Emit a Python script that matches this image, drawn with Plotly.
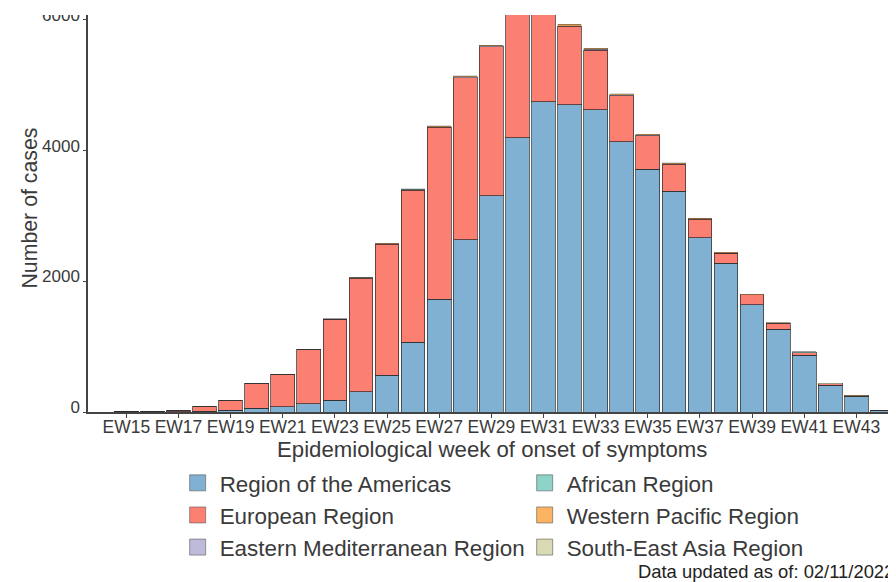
import plotly.graph_objects as go

weeks = ["EW%d" % w for w in range(14, 45)]
tick_weeks = ["EW%d" % w for w in range(15, 45, 2)]

americas = [0, 1, 1, 5, 10, 25, 56, 82, 130, 178, 310, 565, 1064, 1722, 2635, 3307,
            4197, 4745, 4704, 4627, 4133, 3715, 3379, 2670, 2275, 1645, 1269, 866, 407, 240, 20]
european = [0, 2, 2, 15, 72, 147, 375, 485, 819, 1241, 1737, 2005, 2333, 2635, 2481, 2279,
            1918, 1421, 1196, 912, 706, 512, 412, 279, 151, 146, 89, 42, 22, 7, 5]
eastern_med = [0, 0, 0, 0, 0, 0, 1, 1, 2, 3, 4, 5, 6, 8, 9, 10,
               12, 11, 10, 9, 8, 7, 6, 5, 4, 3, 3, 2, 2, 1, 0]
african = [0, 0, 0, 0, 0, 0, 0, 1, 1, 1, 2, 2, 3, 3, 4, 5,
           5, 4, 4, 3, 3, 3, 2, 2, 2, 1, 1, 1, 1, 0, 0]
western_pac = [0, 0, 0, 0, 0, 1, 1, 2, 2, 3, 4, 5, 6, 8, 10, 12,
               14, 15, 16, 16, 14, 12, 11, 10, 9, 8, 7, 10, 4, 5, 0]
se_asia = [0, 0, 0, 0, 0, 0, 0, 0, 1, 1, 1, 2, 2, 2, 3, 3,
           4, 4, 3, 3, 3, 2, 2, 2, 2, 1, 1, 1, 1, 1, 0]

series = [
    ("Region of the Americas", americas, "#80B1D3", 1),
    ("European Region", european, "#FB8072", 3),
    ("Eastern Mediterranean Region", eastern_med, "#BEBADA", 5),
    ("African Region", african, "#8DD3C7", 2),
    ("Western Pacific Region", western_pac, "#FDB462", 4),
    ("South-East Asia Region", se_asia, "#D9D9B3", 6),
]

FONT = "Liberation Sans, Arial, sans-serif"
TXT = "#3a3a3a"

fig = go.Figure()
for i, (name, vals, col, rank) in enumerate(series):
    fig.add_trace(go.Bar(
        x=weeks, y=vals, name=name, marker_color=col,
        marker_line=dict(color="rgba(40,40,40,0.7)" if i < 2 else "rgba(40,40,40,0.35)",
                         width=1 if i < 2 else 0.5),
        showlegend=False,
    ))
for name, vals, col, rank in series:
    fig.add_trace(go.Scatter(
        x=[None], y=[None], mode="markers", name=name, legendrank=rank,
        marker=dict(symbol="square", size=16, color=col,
                    line=dict(color="rgba(90,90,90,0.6)", width=1)),
    ))

# the page body has an 8px margin, so the figure is sized to fill the rest of the window
fig.update_layout(
    width=888, height=574,
    margin=dict(l=80, r=0, t=7, b=170, autoexpand=False),
    barmode="stack", bargap=0.09,
    plot_bgcolor="white", paper_bgcolor="white",
    font=dict(family=FONT, color=TXT),
    legend=dict(
        orientation="h", x=0.1085, xanchor="left", y=-0.1254, yanchor="top",
        font=dict(size=22.4, color=TXT), entrywidthmode="pixels", entrywidth=298,
        itemwidth=34, traceorder="normal", tracegroupgap=0,
    ),
    annotations=[
        dict(text="Data updated as of: 02/11/2022", xref="paper", yref="paper",
             x=1.0, y=-0.402, xanchor="right", yanchor="middle", showarrow=False,
             font=dict(size=18.4, color="#222")),
        dict(text="Epidemiological week of onset of symptoms", xref="paper", yref="paper",
             x=0.5, y=-0.0932, xanchor="center", yanchor="middle", showarrow=False,
             font=dict(size=22.2, color=TXT)),
        dict(text="Number of cases", xref="paper", yref="paper", textangle=-90,
             x=-0.0718, y=0.515, xanchor="center", yanchor="middle", showarrow=False,
             font=dict(size=21.3, color=TXT)),
    ],
    shapes=[dict(type="rect", xref="paper", yref="paper", x0=-0.2, x1=1.0,
                 y0=1.0, y1=1.1, fillcolor="white", line=dict(width=0),
                 layer="above")],
)
fig.update_xaxes(
    range=[-0.47, 30.52], tickmode="array", tickvals=tick_weeks, ticktext=tick_weeks,
    showline=True, linecolor="#444", linewidth=1.5, ticks="outside", ticklen=4,
    tickcolor="#444", showgrid=False, tickfont=dict(size=17.5, color=TXT),
    automargin=False, ticklabelstandoff=-6,
)
fig.update_yaxes(
    range=[0, 6075], tickmode="array", tickvals=[0, 2000, 4000, 6000],
    showline=True, linecolor="#444", linewidth=1.5, ticks="outside", ticklen=3,
    tickcolor="#444", showgrid=False, zeroline=False, ticklabelshift=-5,
    ticklabeloverflow="allow",
    tickfont=dict(size=17, color=TXT), automargin=False,
)

fig.write_html("out.html")
